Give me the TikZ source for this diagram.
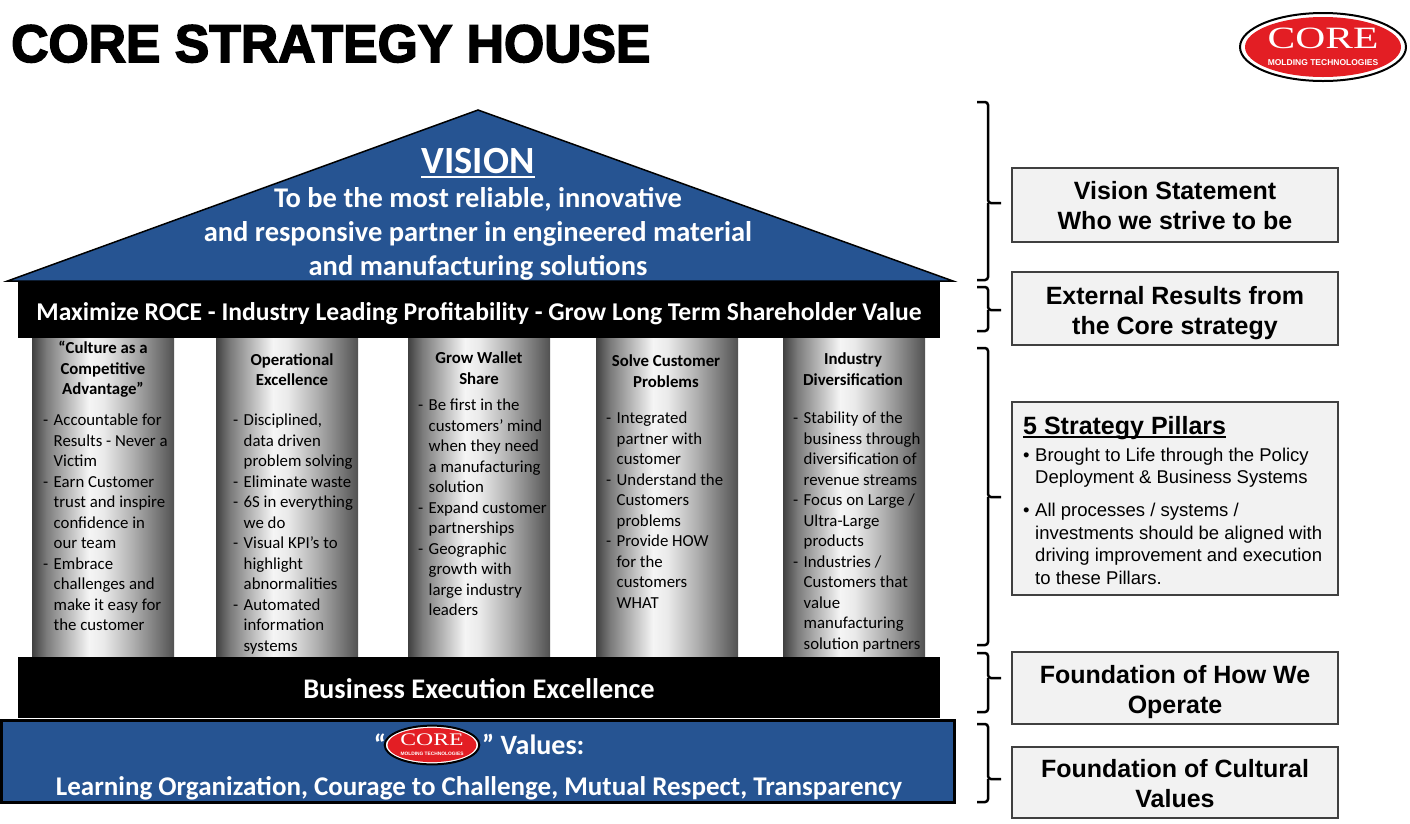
\documentclass[tikz,border=0pt]{standalone}
\usepackage{fontspec}
\setmainfont{Carlito}
\newfontfamily\arialfont{Liberation Sans}
\newfontfamily\titlefont[FakeBold=3]{Liberation Sans Bold}
\newfontfamily\logofont{Liberation Serif}
\usetikzlibrary{positioning}

\definecolor{roofblue}{RGB}{38,84,146}
\definecolor{logored}{RGB}{227,30,36}
\definecolor{boxgray}{RGB}{242,242,242}

\pgfdeclarehorizontalshading{pillarshade}{100bp}{color(0bp)=(black!75);
  color(25bp)=(black!75); color(30bp)=(black!52); color(45bp)=(white!96!black);
  color(50bp)=(white!92!black); color(60bp)=(black!30); color(70bp)=(black!55);
  color(75bp)=(black!68); color(100bp)=(black!68)}

\tikzset{
  band/.style={fill=black, text=white, inner sep=0pt, text depth=0pt},
  pillar/.style={shading=pillarshade},
  ptitle/.style={align=center, inner sep=0pt, anchor=north,
    font=\bfseries\fontsize{16.8}{20.5}\selectfont},
  ptext/.style={align=left, inner sep=0pt, anchor=north west,
    font=\fontsize{16.8}{20.5}\selectfont},
  infobox/.style={draw=black!75, line width=1.2pt, fill=boxgray, minimum width=326pt},
  boxtext/.style={align=center, inner sep=0pt,
    font=\arialfont\bfseries\fontsize{25}{30}\selectfont},
  bracket/.style={line width=2.5pt, rounded corners=3pt},
}

\newcommand{\pd}{\makebox[10.5pt][l]{-}}
\newcommand{\pindent}{\hspace*{10.5pt}}
\newcommand{\bul}{\makebox[12pt][l]{\textbullet}}
\newcommand{\bindent}{\hspace*{12pt}}

% #1 centre, #2 scale, #3 name
\newcommand{\corelogo}[3]{%
  \pgfmathsetmacro\lgword{31*#2}%
  \pgfmathsetmacro\lgsub{8.5*#2}%
  \begin{scope}[shift={#1}, scale=#2]
    \filldraw[fill=white, draw=black, line width=2pt] (0,0) ellipse (83 and 34);
    \fill[logored] (0,0) ellipse (78 and 30);
    \node[text=white, inner sep=0pt, font=\logofont\fontsize{\lgword}{\lgword}\selectfont]
      (#3word) at (0,8.5) {\scalebox{1.34}[1]{CORE}};
    \node[text=white, inner sep=0pt, font=\arialfont\bfseries\fontsize{\lgsub}{\lgsub}\selectfont]
      (#3sub) at (0,-15.5) {MOLDING TECHNOLOGIES};
  \end{scope}}

\begin{document}
\begin{tikzpicture}[x=1pt, y=1pt]
\useasboundingbox (0,0) rectangle (1410,-823);

% title and logo
\node[anchor=base west, inner sep=0pt, font=\titlefont\fontsize{53}{53}\selectfont]
  (title) at (11,-62) {\scalebox{0.975}[1]{CORE STRATEGY HOUSE}};
\corelogo{(1323,-47)}{1}{toplogo}

% roof
\filldraw[fill=roofblue, draw=black, line width=1.5pt]
  (7.5,-281) -- (478,-110) -- (953,-281) -- cycle;
\node[text=white, inner sep=0pt, anchor=base, font=\bfseries\fontsize{38.5}{40}\selectfont]
  (vision) at (478,-173) {VISION};
\draw[white, line width=2.5pt] ([yshift=-4pt]vision.base west) -- ([yshift=-4pt]vision.base east);
\node[text=white, align=center, inner sep=0pt, font=\bfseries\fontsize{28.5}{34}\selectfont]
  (visiontext) at (478,-234) {To be the most reliable, innovative\\
  and responsive partner in engineered material\\and manufacturing solutions};

\node[band, minimum width=922pt, minimum height=56pt, text height=20pt,
  font=\bfseries\fontsize{25.6}{30}\selectfont] (resultband) at (479,-310)
  {Maximize ROCE - Industry Leading Profitability - Grow Long Term Shareholder Value};

% pillars
\foreach \x in {32,216,408,596,783}
  \shade[pillar] (\x,-338) rectangle +(142,-319);

\node[ptitle] (p1title) at (103,-341) {“Culture as a\\Competitive\\Advantage”};
\node[ptext] (p1text) at (43,-414) {\pd Accountable for\\\pindent Results - Never a\\\pindent Victim\\
  \pd Earn Customer\\\pindent trust and inspire\\\pindent confidence in\\\pindent our team\\
  \pd Embrace\\\pindent challenges and\\\pindent make it easy for\\\pindent the customer};

\node[ptitle] (p2title) at (292,-353) {Operational\\Excellence};
\node[ptext] (p2text) at (233,-414) {\pd Disciplined,\\\pindent data driven\\\pindent problem solving\\
  \pd Eliminate waste\\\pd 6S in everything\\\pindent we do\\
  \pd Visual KPI’s to\\\pindent highlight\\\pindent abnormalities\\
  \pd Automated\\\pindent information\\\pindent systems};

\node[ptitle] (p3title) at (479,-352) {Grow Wallet\\Share};
\node[ptext] (p3text) at (418,-399) {\pd Be first in the\\\pindent customers’ mind\\\pindent when they need\\
  \pindent a manufacturing\\\pindent solution\\
  \pd Expand customer\\\pindent partnerships\\
  \pd Geographic\\\pindent growth with\\\pindent large industry\\\pindent leaders};

\node[ptitle] (p4title) at (666,-355) {Solve Customer\\Problems};
\node[ptext] (p4text) at (606,-412) {\pd Integrated\\\pindent partner with\\\pindent customer\\
  \pd Understand the\\\pindent Customers\\\pindent problems\\
  \pd Provide HOW\\\pindent for the\\\pindent customers\\\pindent WHAT};

\node[ptitle] (p5title) at (853,-353) {Industry\\Diversification};
\node[ptext] (p5text) at (793,-412) {\pd Stability of the\\\pindent business through\\
  \pindent diversification of\\\pindent revenue streams\\
  \pd Focus on Large /\\\pindent Ultra-Large\\\pindent products\\
  \pd Industries /\\\pindent Customers that\\\pindent value\\
  \pindent manufacturing\\\pindent solution partners};

% foundation
\node[band, minimum width=922pt, minimum height=61pt, text height=21pt,
  font=\bfseries\fontsize{28.4}{32}\selectfont] (execband) at (479,-687.5)
  {Business Execution Excellence};
\node[draw=black, line width=3pt, fill=roofblue, minimum width=953pt, minimum height=82pt]
  (valueband) at (478,-761.5) {};
\node[text=white, inner sep=0pt, anchor=base, font=\bfseries\fontsize{28}{32}\selectfont]
  (openquote) at (380,-754) {“};
\corelogo{(432,-745)}{0.57}{smalllogo}
\node[text=white, inner sep=0pt, anchor=base west, font=\bfseries\fontsize{28}{32}\selectfont]
  (values) at (482,-754) {” Values:};
\node[text=white, inner sep=0pt, anchor=base, font=\bfseries\fontsize{27}{32}\selectfont]
  (valuelist) at (479,-795)
  {Learning Organization, Courage to Challenge, Mutual Respect, Transparency};

% brackets
\foreach \t/\m/\b in {102/203/280, 287/310/331, 348/497/645, 653/678/712, 724/779/802} {
  \draw[bracket] (977,-\t) -| (988,-\m) -- (1001,-\m);
  \draw[bracket] (988,-\m) |- (977,-\b);
}

% explanation boxes
\node[infobox, minimum height=74pt] (visionbox) at (1175,-205) {};
\node[boxtext] (visionlabel) at ([yshift=-1pt]visionbox.center)
  {Vision Statement\\Who we strive to be};
\node[infobox, minimum height=73pt] (resultsbox) at (1175,-308.5) {};
\node[boxtext] (resultslabel) at ([yshift=-4.5pt]resultsbox.center)
  {External Results from\\the Core strategy};
\node[infobox, minimum height=193pt] (pillarsbox) at (1175,-498.5) {};
\node[anchor=base west, inner sep=0pt, font=\arialfont\bfseries\fontsize{25}{30}\selectfont]
  (pillarshead) at (1023,-434) {5 Strategy Pillars};
\draw[line width=1.5pt] ([yshift=-3pt]pillarshead.base west) -- ([yshift=-3pt]pillarshead.base east);
\node[anchor=north west, align=left, inner sep=0pt, font=\arialfont\fontsize{18.5}{22.5}\selectfont]
  (pillarsnotes) at (1023,-447.5) {\bul Brought to Life through the Policy\\
  \bindent Deployment \& Business Systems\\[10.5pt]
  \bul All processes / systems /\\\bindent investments should be aligned with\\
  \bindent driving improvement and execution\\\bindent to these Pillars.};
\node[infobox, minimum height=72pt] (operatebox) at (1175,-688) {};
\node[boxtext] (operatelabel) at ([yshift=-4.5pt]operatebox.center)
  {Foundation of How We\\Operate};
\node[infobox, minimum height=71pt] (culturebox) at (1175,-782.5) {};
\node[boxtext] (culturelabel) at ([yshift=-1pt]culturebox.center)
  {Foundation of Cultural\\Values};
\end{tikzpicture}
\end{document}
